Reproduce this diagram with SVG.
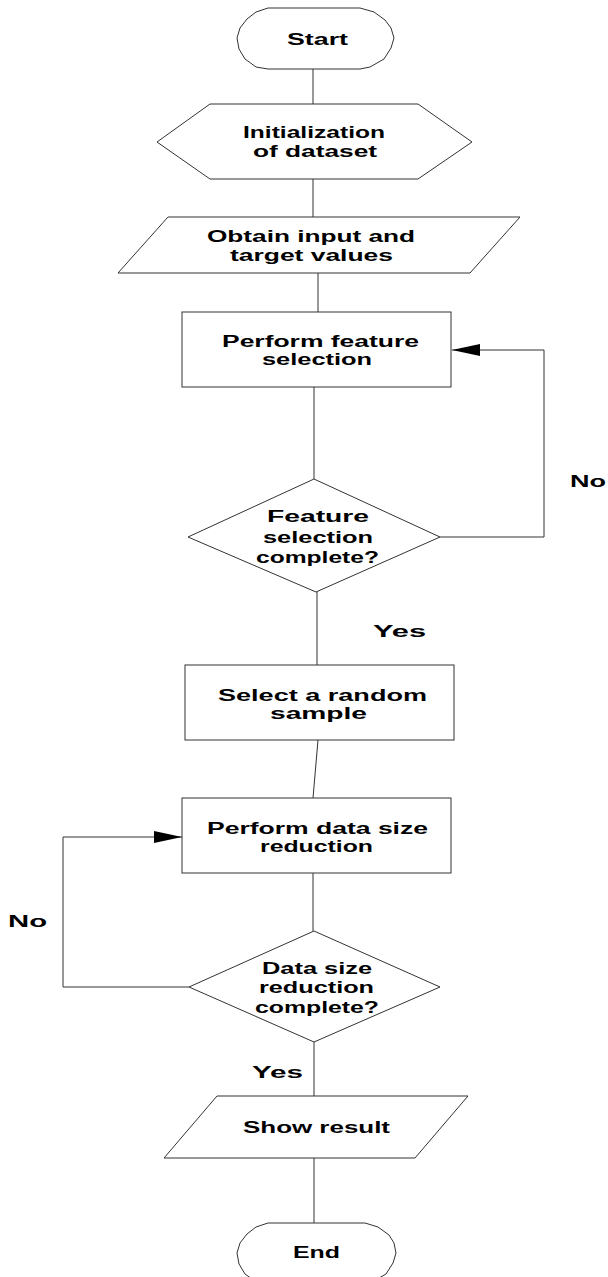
<svg xmlns="http://www.w3.org/2000/svg" width="608" height="1277" viewBox="0 0 608 1277">
<style>
  .shape { fill: #ffffff; stroke: #333333; stroke-width: 1; }
  .conn { fill: none; stroke: #333333; stroke-width: 1; }
  text { font-family: "Liberation Sans", Arial, sans-serif; font-size: 16px; font-weight: bold; fill: #000000; }
</style>
<defs>
  <marker id="arrow" markerWidth="28" markerHeight="12" refX="28" refY="6" orient="auto" markerUnits="userSpaceOnUse">
    <path d="M0,0 L28,6 L0,12 Z" fill="#000000"/>
  </marker>
</defs>
<rect width="608" height="1277" fill="#ffffff"/>

<g id="connectors">
  <line class="conn" x1="313" y1="69" x2="313" y2="104"/>
  <line class="conn" x1="313" y1="179" x2="313" y2="217"/>
  <line class="conn" x1="318" y1="273" x2="318" y2="312"/>
  <line class="conn" x1="314" y1="387" x2="314" y2="479"/>
  <line class="conn" x1="317" y1="592" x2="317" y2="665"/>
  <line class="conn" x1="318" y1="740" x2="313" y2="798"/>
  <line class="conn" x1="313" y1="873" x2="313" y2="931"/>
  <line class="conn" x1="314" y1="1042" x2="314" y2="1096"/>
  <line class="conn" x1="314" y1="1158" x2="314" y2="1223"/>
  <polyline class="conn" points="440,537 544,537 544,350 452,350" marker-end="url(#arrow)"/>
  <polyline class="conn" points="189,987 63,987 63,837 182,837" marker-end="url(#arrow)"/>
  <text x="570" y="487" textLength="36" lengthAdjust="spacingAndGlyphs">No</text>
  <text x="373" y="637" textLength="53" lengthAdjust="spacingAndGlyphs">Yes</text>
  <text x="8" y="927" textLength="39" lengthAdjust="spacingAndGlyphs">No</text>
  <text x="252" y="1078" textLength="51" lengthAdjust="spacingAndGlyphs">Yes</text>
</g>

<g id="start">
  <polygon class="shape" points="268,8 360,8 374,12 385,20 391,28 394,38 391,48 384,59 370,67 360,69 268,69 256,67 245,59 239,49 237,38 240,28 247,19 256,12"/>
  <text x="287" y="45" textLength="61" lengthAdjust="spacingAndGlyphs">Start</text>
</g>

<g id="init">
  <polygon class="shape" points="210,104 418,104 472,142 418,179 210,179 157,142"/>
  <text x="243" y="138" textLength="142" lengthAdjust="spacingAndGlyphs">Initialization</text>
  <text x="253" y="157" textLength="124" lengthAdjust="spacingAndGlyphs">of dataset</text>
</g>

<g id="obtain">
  <polygon class="shape" points="168,217 520,217 470,273 118,273"/>
  <text x="207" y="242" textLength="208" lengthAdjust="spacingAndGlyphs">Obtain input and</text>
  <text x="230" y="261" textLength="163" lengthAdjust="spacingAndGlyphs">target values</text>
</g>

<g id="feature">
  <rect class="shape" x="182" y="312" width="269" height="75"/>
  <text x="222" y="347" textLength="197" lengthAdjust="spacingAndGlyphs">Perform feature</text>
  <text x="262" y="365" textLength="110" lengthAdjust="spacingAndGlyphs">selection</text>
</g>

<g id="feature-check">
  <polygon class="shape" points="314,479 440,537 316,592 188,537"/>
  <text x="267" y="522" textLength="102" lengthAdjust="spacingAndGlyphs">Feature</text>
  <text x="263" y="543" textLength="110" lengthAdjust="spacingAndGlyphs">selection</text>
  <text x="256" y="563" textLength="123" lengthAdjust="spacingAndGlyphs">complete?</text>
</g>

<g id="sample">
  <rect class="shape" x="185" y="665" width="269" height="75"/>
  <text x="218" y="701" textLength="209" lengthAdjust="spacingAndGlyphs">Select a random</text>
  <text x="270" y="719" textLength="97" lengthAdjust="spacingAndGlyphs">sample</text>
</g>

<g id="reduction">
  <rect class="shape" x="182" y="798" width="269" height="75"/>
  <text x="207" y="834" textLength="221" lengthAdjust="spacingAndGlyphs">Perform data size</text>
  <text x="260" y="852" textLength="113" lengthAdjust="spacingAndGlyphs">reduction</text>
</g>

<g id="reduction-check">
  <polygon class="shape" points="314,931 440,987 314,1042 189,987"/>
  <text x="262" y="974" textLength="110" lengthAdjust="spacingAndGlyphs">Data size</text>
  <text x="259" y="993" textLength="115" lengthAdjust="spacingAndGlyphs">reduction</text>
  <text x="255" y="1013" textLength="124" lengthAdjust="spacingAndGlyphs">complete?</text>
</g>

<g id="show">
  <polygon class="shape" points="217,1096 468,1096 415,1158 164,1158"/>
  <text x="243" y="1133" textLength="147" lengthAdjust="spacingAndGlyphs">Show result</text>
</g>

<g id="end">
  <polygon class="shape" points="268,1223 365,1223 378,1227 389,1235 394,1243 396,1253 393,1263 386,1274 372,1282 365,1284 268,1284 256,1282 245,1274 239,1264 237,1253 240,1243 247,1234 256,1227"/>
  <text x="293" y="1258" textLength="47" lengthAdjust="spacingAndGlyphs">End</text>
</g>
</svg>
